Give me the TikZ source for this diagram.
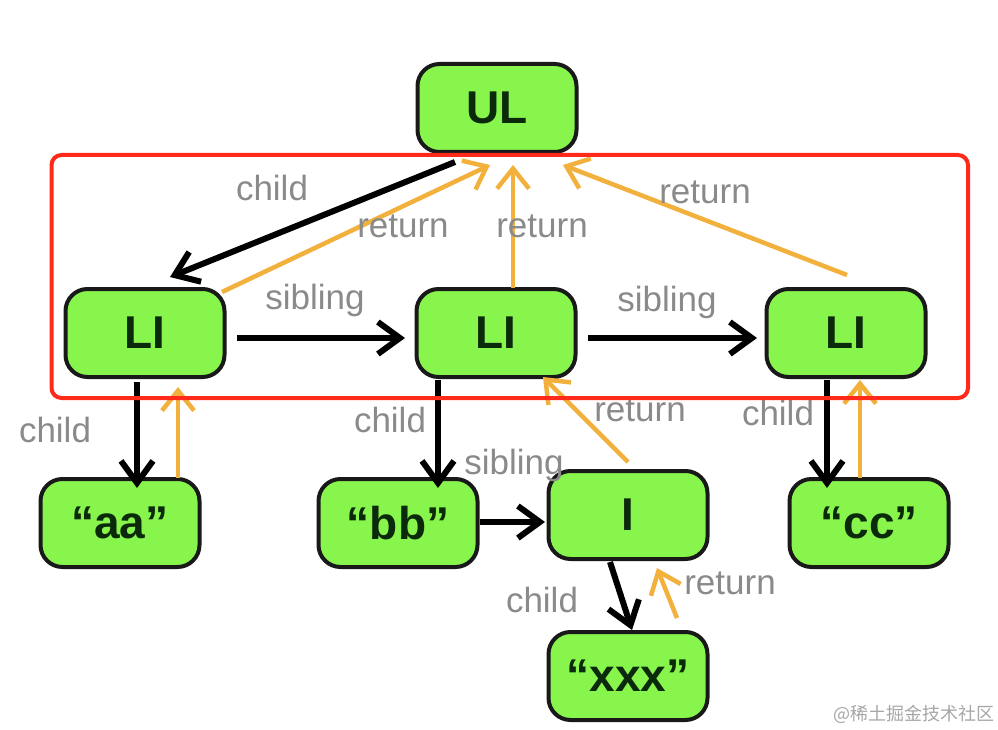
\documentclass[tikz,border=0pt]{standalone}
\usepackage{fontspec}
\setmainfont{Liberation Sans}
\newfontfamily\cjkfont{Noto Sans CJK SC}
\usetikzlibrary{arrows.meta,calc}

\definecolor{boxgreen}{HTML}{88F54C}
\definecolor{boxtext}{HTML}{0B2A0B}
\definecolor{retorange}{HTML}{F2B03C}
\definecolor{lblgray}{HTML}{8A8A8A}
\definecolor{framered}{HTML}{FF2A1A}

\begin{document}
\begin{tikzpicture}[x=1pt,y=-1pt,
    fiber node/.style={rectangle,rounded corners=22pt,draw=black!90,line width=4pt,fill=boxgreen,
      minimum width=159pt,minimum height=88pt,text=boxtext,font=\fontsize{46}{50}\selectfont\bfseries},
    edge label/.style={text=lblgray,font=\fontsize{35}{38}\selectfont},
    child/.style={draw=black,line width=6pt,-{Straight Barb[length=22pt,width=32pt]}},
    back/.style={draw=retorange,line width=4.5pt,-{Straight Barb[length=20pt,width=32pt]}}]
  \useasboundingbox (0,0) rectangle (998,730);

  \node[fiber node] (UL) at (497,108) {UL};
  \node[fiber node] (LI1) at (145,333) {LI};
  \node[fiber node] (LI2) at (496,333) {LI};
  \node[fiber node] (LI3) at (846,333) {LI};
  \node[fiber node] (aa) at (120,523) {“aa”};
  \node[fiber node] (bb) at (398,523) {“bb”};
  \node[fiber node] (I) at (628,515) {I};
  \node[fiber node] (cc) at (869,523) {“cc”};
  \node[fiber node] (xxx) at (628,676) {“xxx”};

  % child / sibling
  \draw[child] ($(UL)+(-42,54)$) -- ($(LI1)+(25,-56)$);
  \draw[child] ($(LI1)+(92,5)$) -- ($(LI2)+(-91,5)$);
  \draw[child] ($(LI2)+(92,5)$) -- ($(LI3)+(-89,5)$);
  \draw[child] ($(LI1)+(-8,49)$) -- ($(aa)+(17,-35)$);
  \draw[child] ($(LI2)+(-58,47)$) -- ($(bb)+(40,-35)$);
  \draw[child] ($(bb)+(82,-1)$) -- ($(I)+(-83,7)$);
  \draw[child] ($(I)+(-18,47)$) -- ($(xxx)+(4,-46)$);
  \draw[child] ($(LI3)+(-19,47)$) -- ($(cc)+(-42,-35)$);

  % return
  \draw[back] ($(LI1)+(77,-41)$) -- ($(UL)+(-7,57)$);
  \draw[back] ($(LI2)+(17,-45)$) -- ($(UL)+(16,57)$);
  \draw[back] ($(LI3)+(1,-58)$) -- ($(UL)+(66,57)$);
  \draw[back] ($(aa)+(58,-45)$) -- ($(LI1)+(33,54)$);
  \draw[back] ($(I)+(0,-53)$) -- ($(LI2)+(47,44)$);
  \draw[back] ($(cc)+(-9,-45)$) -- ($(LI3)+(14,47)$);
  \draw[back] ($(xxx)+(49,-58)$) -- ($(I)+(29,53)$);

  \node[edge label] (l1) at (272,188) {child};
  \node[edge label] (l2) at (403,226) {return};
  \node[edge label] (l3) at (542,226) {return};
  \node[edge label] (l4) at (705,192) {return};
  \node[edge label] (l5) at (315,300) {sibling};
  \node[edge label] (l6) at (667,302) {sibling};
  \node[edge label] (l7) at (55,430) {child};
  \node[edge label] (l8) at (390,420) {child};
  \node[edge label] (l9) at (514,465) {sibling};
  \node[edge label] (l10) at (640,410) {return};
  \node[edge label] (l11) at (778,413) {child};
  \node[edge label] (l12) at (542,600) {child};
  \node[edge label] (l13) at (730,583) {return};

  \draw[framered,line width=4pt,rounded corners=10pt] (51.5,155) rectangle (968,398);

  \node[text=black!35,font=\cjkfont\fontsize{18}{20}\selectfont] (mark) at (914,714) {@稀土掘金技术社区};
\end{tikzpicture}
\end{document}
